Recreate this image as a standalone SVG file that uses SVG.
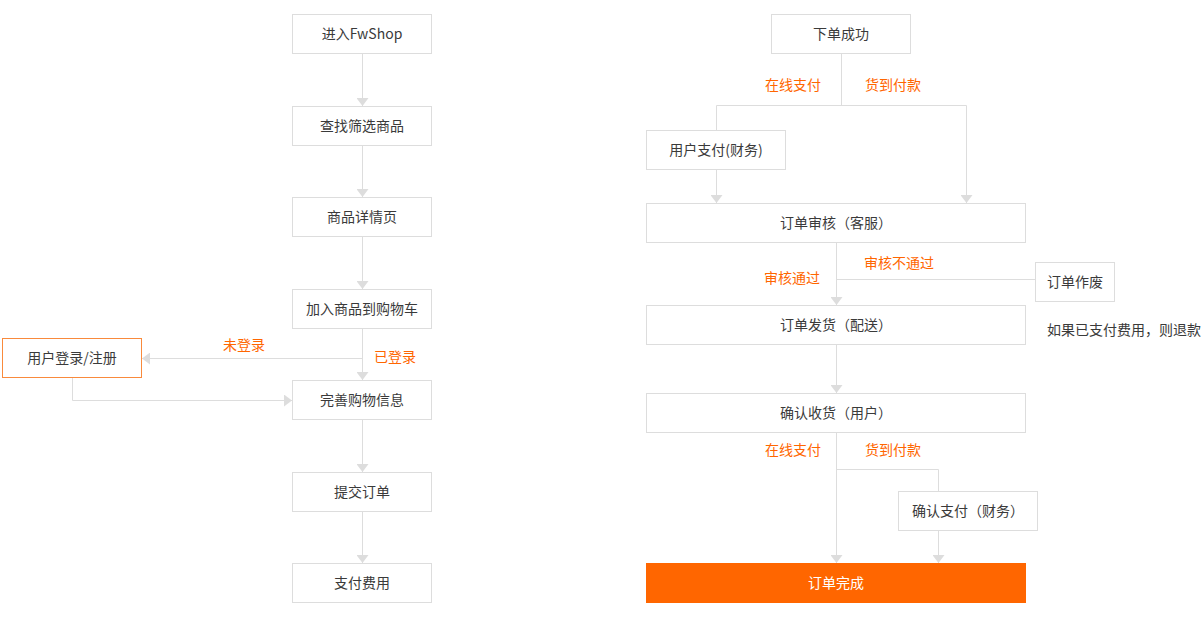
<svg xmlns="http://www.w3.org/2000/svg" width="1201" height="620" viewBox="0 0 1201 620">
<defs>
<marker id="arr" viewBox="0 0 8 12" refX="8" refY="6" markerWidth="8" markerHeight="12" markerUnits="userSpaceOnUse" orient="auto">
<path d="M0,0 L8,6 L0,12 z" fill="#dddddd"/>
</marker>
<style>
.box{fill:#fff;stroke:#dddddd;stroke-width:1}
.obox{fill:#fff;stroke:#f98a3c;stroke-width:1}
.t{font-family:"Noto Sans CJK SC","Noto Sans",sans-serif;font-size:14px;fill:#3a3a3a;text-anchor:middle;dominant-baseline:central}
.lbl{font-family:"Noto Sans CJK SC","Noto Sans",sans-serif;font-size:14px;fill:#ff6600;text-anchor:middle;dominant-baseline:central}
.ln{fill:none;stroke:#dddddd;stroke-width:1}
</style>
</defs>
<rect width="1201" height="620" fill="#fff"/>
<g id="connectors">
<path class="ln" d="M362.5,53.5 V106" marker-end="url(#arr)"/>
<path class="ln" d="M362.5,145.5 V197" marker-end="url(#arr)"/>
<path class="ln" d="M362.5,236.5 V289" marker-end="url(#arr)"/>
<path class="ln" d="M362.5,328.5 V380" marker-end="url(#arr)"/>
<path class="ln" d="M362.5,358.5 H142" marker-end="url(#arr)"/>
<path class="ln" d="M72.5,377.5 V400.5 H292" marker-end="url(#arr)"/>
<path class="ln" d="M362.5,419.5 V472" marker-end="url(#arr)"/>
<path class="ln" d="M362.5,511.5 V563" marker-end="url(#arr)"/>
<path class="ln" d="M841.5,53.5 V105.5"/>
<path class="ln" d="M716.5,130 V105.5 H966.5 V203" marker-end="url(#arr)"/>
<path class="ln" d="M716.5,169.5 V203" marker-end="url(#arr)"/>
<path class="ln" d="M836.5,242.5 V305" marker-end="url(#arr)"/>
<path class="ln" d="M836.5,279.5 H1035"/>
<path class="ln" d="M836.5,344.5 V393" marker-end="url(#arr)"/>
<path class="ln" d="M836.5,432.5 V563" marker-end="url(#arr)"/>
<path class="ln" d="M836.5,469.5 H938.5 V491"/>
<path class="ln" d="M938.5,530.5 V563" marker-end="url(#arr)"/>
<text class="lbl" x="244" y="343.5">未登录</text>
<text class="lbl" x="395" y="355.5">已登录</text>
<text class="lbl" x="793" y="83.5">在线支付</text>
<text class="lbl" x="893" y="83.5">货到付款</text>
<text class="lbl" x="792" y="276.5">审核通过</text>
<text class="lbl" x="899" y="261.5">审核不通过</text>
<text class="lbl" x="793" y="448.5">在线支付</text>
<text class="lbl" x="893" y="448.5">货到付款</text>
</g>
<g id="n1"><rect class="box" x="292.5" y="14.5" width="139" height="39"/><text class="t" x="362" y="32.5">进入FwShop</text></g>
<g id="n2"><rect class="box" x="292.5" y="106.5" width="139" height="39"/><text class="t" x="362" y="124.5">查找筛选商品</text></g>
<g id="n3"><rect class="box" x="292.5" y="197.5" width="139" height="39"/><text class="t" x="362" y="215.5">商品详情页</text></g>
<g id="n4"><rect class="box" x="292.5" y="289.5" width="139" height="39"/><text class="t" x="362" y="307.5">加入商品到购物车</text></g>
<g id="n5"><rect class="obox" x="2.5" y="338.5" width="139" height="39"/><text class="t" x="72" y="356.5">用户登录/注册</text></g>
<g id="n6"><rect class="box" x="292.5" y="380.5" width="139" height="39"/><text class="t" x="362" y="398.5">完善购物信息</text></g>
<g id="n7"><rect class="box" x="292.5" y="472.5" width="139" height="39"/><text class="t" x="362" y="490.5">提交订单</text></g>
<g id="n8"><rect class="box" x="292.5" y="563.5" width="139" height="39"/><text class="t" x="362" y="581.5">支付费用</text></g>
<g id="r1"><rect class="box" x="771.5" y="14.5" width="139" height="39"/><text class="t" x="841" y="32.5">下单成功</text></g>
<g id="r2"><rect class="box" x="646.5" y="130.5" width="139" height="39"/><text class="t" x="716" y="148.5">用户支付(财务)</text></g>
<g id="r3"><rect class="box" x="646.5" y="203.5" width="379" height="39"/><text class="t" x="836" y="221.5">订单审核（客服）</text></g>
<g id="r4"><rect class="box" x="1035.5" y="262.5" width="79" height="39"/><text class="t" x="1075" y="280.5">订单作废</text></g>
<g id="r5"><rect class="box" x="646.5" y="305.5" width="379" height="39"/><text class="t" x="836" y="323.5">订单发货（配送）</text></g>
<g id="note"><text class="t" x="1124" y="328.5">如果已支付费用，则退款</text></g>
<g id="r6"><rect class="box" x="646.5" y="393.5" width="379" height="39"/><text class="t" x="836" y="411.5">确认收货（用户）</text></g>
<g id="r7"><rect class="box" x="898.5" y="491.5" width="139" height="39"/><text class="t" x="968" y="509.5">确认支付（财务）</text></g>
<g id="r8"><rect x="646" y="563" width="380" height="40" fill="#ff6600"/><text class="t" x="836" y="581.5" style="fill:#fff">订单完成</text></g>
</svg>
